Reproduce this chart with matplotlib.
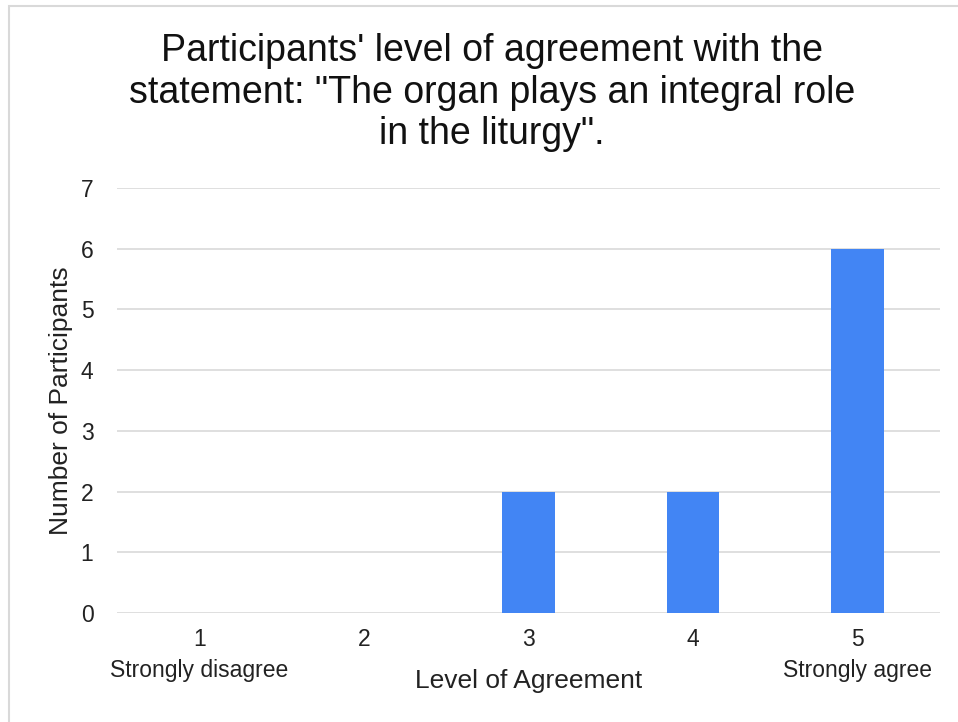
import matplotlib.pyplot as plt
from matplotlib.patches import Rectangle

plt.rcParams['font.family'] = ['Liberation Sans', 'DejaVu Sans']

levels = ['1\nStrongly disagree', '2', '3', '4', '5\nStrongly agree']
counts = [0, 0, 2, 2, 6]
title = "Participants' level of agreement with the\nstatement: \"The organ plays an integral role\nin the liturgy\"."

fig = plt.figure(figsize=(9.58, 7.22), dpi=100)
fig.patches.append(Rectangle((9 / 958, -0.1), 1.2, 1 - 6 / 722 + 0.1, transform=fig.transFigure,
                             fill=False, edgecolor='#d9d9d9', linewidth=1.5))

ax = fig.add_axes([117 / 958, 1 - 613 / 722, (940 - 117) / 958, (613 - 188) / 722])
x = range(len(levels))
ax.bar(x, counts, width=0.32, color='#4285F4', zorder=3)
ax.set_xlim(-0.5, len(levels) - 0.5)
ax.set_ylim(0, 7)
ax.set_yticks(range(8))
ax.set_xticks(list(x))
ax.set_xticklabels(levels, fontsize=16.5, color='#222222', linespacing=1.45)
ax.tick_params(axis='y', labelsize=16.5, colors='#222222', length=0, pad=17)
ax.tick_params(axis='x', length=0, pad=11)
ax.grid(axis='y', color='#d9d9d9', linewidth=1.2, zorder=0)
for s in ax.spines.values():
    s.set_visible(False)

ax.set_xlabel('Level of Agreement', fontsize=19, color='#222222')
ax.xaxis.set_label_coords(0.5, (613 - 681) / 425)
ax.xaxis.label.set_va('center')
ax.set_ylabel('Number of Participants', fontsize=19, color='#222222')
ax.yaxis.set_label_coords((61 - 117) / 823, 0.5)
ax.yaxis.label.set_va('center')

fig.text(492 / 958, 1 - 33 / 722, title, ha='center', va='top', fontsize=27,
         color='#111111', linespacing=1.2)

fig.savefig('out.png', dpi=100)
